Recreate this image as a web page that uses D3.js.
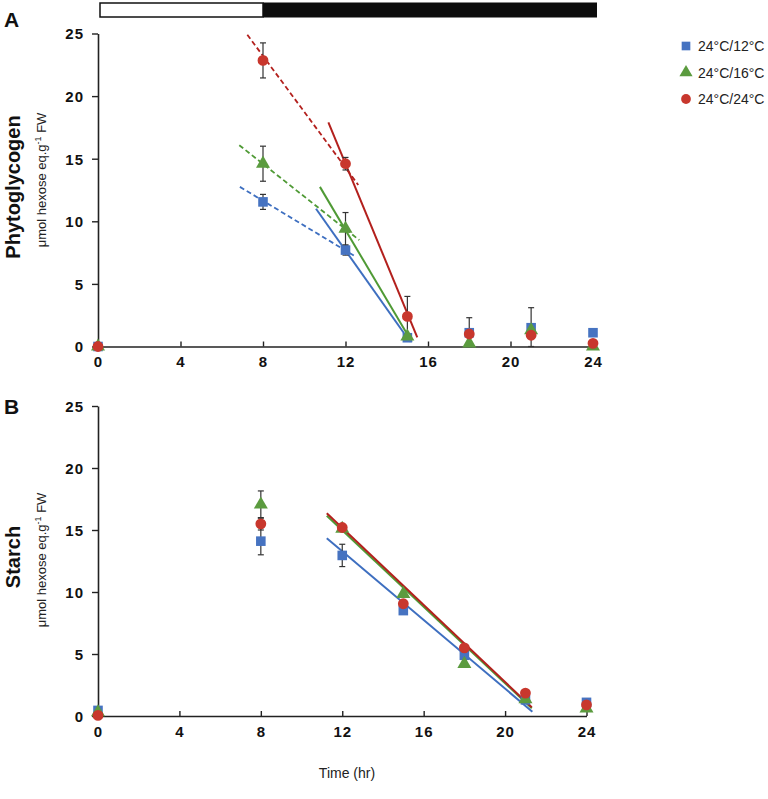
<!DOCTYPE html>
<html>
<head>
<meta charset="utf-8">
<script src="https://cdn.jsdelivr.net/npm/d3@7"></script>
<style>
  body { margin: 0; background: #fff; }
  svg { font-family: "Liberation Sans", Arial, sans-serif; }
</style>
</head>
<body>
<svg id="chart" width="768" height="799"></svg>
<script>
// sampling times (hr)
var times = [0, 8, 12, 15, 18, 21, 24];
var series = ["24°C/12°C", "24°C/16°C", "24°C/24°C"];
var colors = ["#4673c1", "#5b9b3f", "#c8372d"];
var lineColors = ["#3e6fc0", "#4f9a35", "#b3201d"];
var shapes = [d3.symbolSquare, d3.symbolTriangle, d3.symbolCircle];

// panel A: phytoglycogen
var phytoBlue = [0, 11.55, 7.7, 0.7, 1.1, 1.5, 1.1];
var phytoGreen = [0, 14.6, 9.4, 0.8, 0.25, 1.3, 0];
var phytoRed = [0, 22.85, 14.6, 2.4, 1.0, 0.9, 0.25];
var phytoBlueErr = [0, 0.6, 0.4, 0, 1.2, 1.6, 0];
var phytoGreenErr = [0, 1.4, 1.3, 0, 0, 0, 0];
var phytoRedErr = [0, 1.4, 0.5, 1.6, 0, 0, 0];
// fitted lines [x1, y1, x2, y2]
var phytoDashed = [[6.88, 12.75, 12.5, 7.17], [6.85, 16.08, 12.67, 8.5], [7.24, 24.9, 12.62, 12.9]];
var phytoSolid = [[10.57, 11.0, 15.13, 0.38], [10.76, 12.75, 15.21, 0.38], [11.17, 17.9, 15.48, 0.73]];

// panel B: starch
var starchBlue = [0.45, 14.1, 12.95, 8.5, 4.9, 1.3, 1.1];
var starchGreen = [0.3, 17.05, 15.1, 9.85, 4.2, 1.35, 0.6];
var starchRed = [0.05, 15.5, 15.2, 9.05, 5.5, 1.85, 0.9];
var starchBlueErr = [0, 1.1, 0.9, 0.3, 0, 0, 0];
var starchGreenErr = [0, 1.1, 0, 0, 0, 0, 0];
var starchRedErr = [0, 0.5, 0, 0, 0, 0, 0];
var starchSolid = [[11.24, 14.33, 21.34, 0.35], [11.24, 16.15, 21.31, 0.62], [11.24, 16.35, 21.31, 0.7]];

var xTicks = [0, 4, 8, 12, 16, 20, 24];
var yTicks = [0, 5, 10, 15, 20, 25];
var lightPeriod = [0, 8];
var darkPeriod = [8, 24];

var svg = d3.select("#chart");

function drawPanel(opt) {
  var x = d3.scaleLinear().domain([0, 24]).range([98, opt.xEnd]);
  var y = d3.scaleLinear().domain([0, 25]).range([opt.y0, opt.y25]);
  var g = svg.append("g");

  var xAxis = g.append("g")
    .attr("transform", "translate(0," + opt.y0 + ")")
    .call(d3.axisBottom(x).tickValues(xTicks).tickSize(-5).tickPadding(10).tickSizeOuter(0));
  var yAxis = g.append("g")
    .attr("transform", "translate(98,0)")
    .call(d3.axisLeft(y).tickValues(yTicks).tickSize(6).tickPadding(8).tickSizeOuter(0));
  [xAxis, yAxis].forEach(function (a) {
    a.select(".domain").attr("stroke", "#222").attr("stroke-width", 1.6);
    a.selectAll(".tick line").attr("stroke", "#222").attr("stroke-width", 1.4);
    a.selectAll(".tick text").attr("font-size", "15px").attr("font-weight", "bold")
      .attr("fill", "#111").attr("font-family", "Liberation Sans, Arial, sans-serif")
      .style("letter-spacing", "1px");
  });
  yAxis.selectAll(".tick text").attr("dy", "0.36em");

  // fitted lines
  if (opt.dashed) {
    g.selectAll("line.dash").data(opt.dashed).enter().append("line")
      .attr("x1", function (d) { return x(d[0]); })
      .attr("y1", function (d) { return y(d[1]); })
      .attr("x2", function (d) { return x(d[2]); })
      .attr("y2", function (d) { return y(d[3]); })
      .attr("stroke", function (d, i) { return lineColors[i]; })
      .attr("stroke-width", 1.8)
      .attr("stroke-dasharray", "5,3");
  }
  g.selectAll("line.fit").data(opt.solid).enter().append("line")
    .attr("x1", function (d) { return x(d[0]); })
    .attr("y1", function (d) { return y(d[1]); })
    .attr("x2", function (d) { return x(d[2]); })
    .attr("y2", function (d) { return y(d[3]); })
    .attr("stroke", function (d, i) { return lineColors[i]; })
    .attr("stroke-width", 2);

  // error bars
  opt.values.forEach(function (vals, s) {
    var errs = opt.errors[s];
    var eg = g.append("g").attr("stroke", "#333").attr("stroke-width", 1.2);
    times.forEach(function (t, i) {
      if (!errs[i]) return;
      var cx = x(t), top = y(vals[i] + errs[i]), bot = y(Math.max(0, vals[i] - errs[i]));
      eg.append("line").attr("x1", cx).attr("x2", cx).attr("y1", top).attr("y2", bot);
      eg.append("line").attr("x1", cx - 3).attr("x2", cx + 3).attr("y1", top).attr("y2", top);
      eg.append("line").attr("x1", cx - 3).attr("x2", cx + 3).attr("y1", bot).attr("y2", bot);
    });
  });

  // markers
  var sizes = [92, 85, 92];
  opt.values.forEach(function (vals, s) {
    g.append("g").selectAll("path").data(vals).enter().append("path")
      .attr("d", d3.symbol().type(shapes[s]).size(sizes[s]))
      .attr("transform", function (d, i) { return "translate(" + x(times[i]) + "," + y(d) + ")"; })
      .attr("fill", colors[s]);
  });

  // axis titles
  svg.append("text")
    .attr("transform", "translate(" + 20 + "," + opt.titleY + ") rotate(-90)")
    .attr("text-anchor", "middle")
    .attr("font-size", "20px").attr("font-weight", "bold").attr("fill", "#111")
    .text(opt.title);
  var unit = svg.append("text")
    .attr("transform", "translate(" + 46 + "," + opt.unitY + ") rotate(-90)")
    .attr("text-anchor", "middle")
    .attr("font-size", "13px").attr("fill", "#222")
    .text("μmol hexose eq.g");
  unit.append("tspan").attr("font-size", "9px").attr("dy", "-5").text("-1");
  unit.append("tspan").attr("dy", "5").text(" FW");

  svg.append("text")
    .attr("x", 4).attr("y", opt.letterY)
    .attr("font-size", "21px").attr("font-weight", "bold").attr("fill", "#111")
    .text(opt.letter);
  return x;
}

var xA = drawPanel({
  xEnd: 593, y0: 346.5, y25: 33.5,
  values: [phytoBlue, phytoGreen, phytoRed],
  errors: [phytoBlueErr, phytoGreenErr, phytoRedErr],
  dashed: phytoDashed, solid: phytoSolid,
  title: "Phytoglycogen", titleY: 187, unitY: 180, letter: "A", letterY: 27
});

drawPanel({
  xEnd: 586.5, y0: 716, y25: 406,
  values: [starchBlue, starchGreen, starchRed],
  errors: [starchBlueErr, starchGreenErr, starchRedErr],
  solid: starchSolid,
  title: "Starch", titleY: 557, unitY: 560, letter: "B", letterY: 414
});

// light / dark bar
svg.append("rect")
  .attr("x", xA(lightPeriod[0]) + 2).attr("y", 3)
  .attr("width", xA(lightPeriod[1]) - xA(lightPeriod[0]) - 2).attr("height", 14)
  .attr("fill", "#fff").attr("stroke", "#111").attr("stroke-width", 1.5);
svg.append("rect")
  .attr("x", xA(darkPeriod[0])).attr("y", 2.5)
  .attr("width", xA(darkPeriod[1]) + 4 - xA(darkPeriod[0])).attr("height", 15)
  .attr("fill", "#0d0d0d");

// x title
svg.append("text")
  .attr("x", 347).attr("y", 778)
  .attr("text-anchor", "middle")
  .attr("font-size", "14px").attr("fill", "#222")
  .text("Time (hr)");

// legend
var legend = svg.append("g").attr("transform", "translate(686,46)");
series.forEach(function (name, i) {
  var row = legend.append("g").attr("transform", "translate(0," + i * 26.5 + ")");
  row.append("path")
    .attr("d", d3.symbol().type(shapes[i]).size(75))
    .attr("fill", colors[i]);
  row.append("text")
    .attr("x", 12).attr("y", 5)
    .attr("font-size", "14px").attr("fill", "#222")
    .text(name);
});
</script>
</body>
</html>
